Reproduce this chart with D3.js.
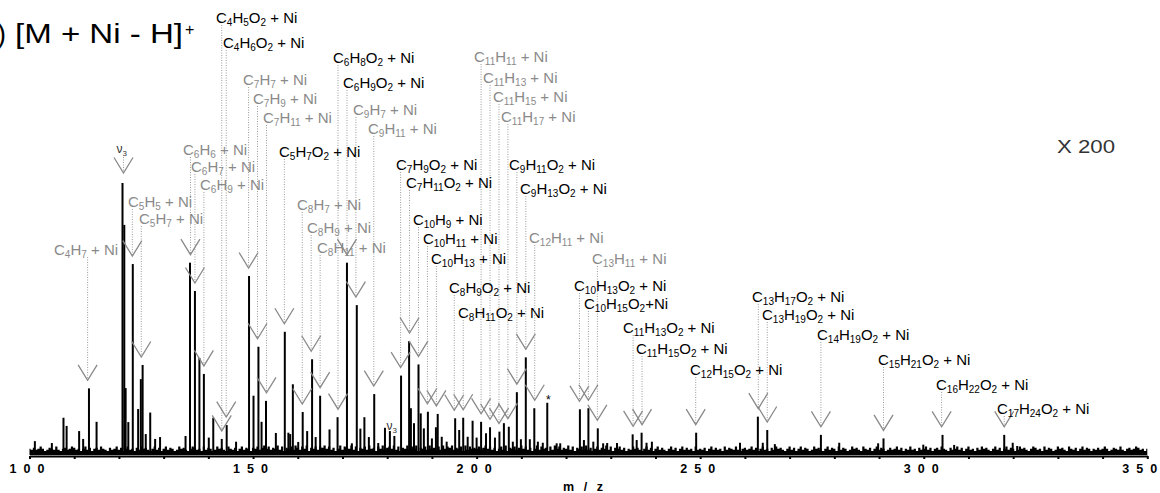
<!DOCTYPE html>
<html>
<head>
<meta charset="utf-8">
<script src="https://cdn.jsdelivr.net/npm/d3@7"></script>
<style>
body { margin: 0; background: #fff; }
svg { display: block; font-family: "Liberation Sans", Arial, sans-serif; }
</style>
</head>
<body>
<svg id="chart" width="1160" height="493"></svg>
<script>
// peaks: m/z and relative intensity (tallest = 100)
const peakMz = [101.2, 105.0, 107.6, 108.3, 111.1, 112.0, 113.3, 115.0,
  120.8, 121.2, 121.5, 122.1, 123.1, 124.3, 124.9, 125.3, 126.0, 127.0, 128.1, 129.2,
  134.9, 135.9, 137.0, 138.0, 139.0, 140.1, 141.1, 143.0, 144.1, 146.2,
  149.1, 150.1, 151.2, 151.9, 152.9, 155.1, 157.1, 157.9, 158.3, 158.9,
  160.1, 161.1, 162.1, 163.2, 164.0, 165.0, 167.1, 168.9, 171.0, 172.1,
  173.2, 174.0, 174.9, 175.9, 177.1, 178.0, 179.5, 180.6, 181.6,
  183.1, 184.9, 185.3, 186.0, 187.0, 187.5, 188.2, 189.1, 190.0, 190.9, 191.3, 192.2, 193.3,
  195.2, 196.1, 197.0, 198.0, 199.1, 200.0, 201.0, 202.1, 203.0, 204.1, 205.1, 206.1, 207.2,
  208.1, 209.0, 209.9, 211.0, 211.9, 212.9, 213.7, 214.8, 215.8, 217.9, 218.7,
  223.1, 224.0, 225.0, 226.1, 227.1, 228.3, 229.2, 231.4, 234.9, 235.8, 236.9, 238.0, 239.2,
  249.1, 258.9, 262.9, 264.0, 265.0, 266.7, 277.0, 281.1, 289.8, 291.0, 299.9,
  304.2, 306.8, 318.0, 319.9, 320.9];
const peakInt = [5.1, 4.4, 13.7, 10.7, 8.8, 5.9, 24.5, 12.2,
  100, 84.6, 24.6, 12.1, 70.2, 16.9, 27.9, 33.1, 7.7, 15.6, 5.9, 6.6,
  7.0, 70.7, 60.3, 35.7, 29.8, 6.4, 13.7, 5.9, 11.0, 4.9,
  65.8, 21.8, 39.8, 12.2, 19.9, 8.1, 45.3, 8.2, 7.7, 26.0,
  4.8, 15.8, 8.8, 35.2, 6.6, 21.8, 9.4, 13.9, 70.7, 4.3,
  55.1, 9.7, 13.9, 6.6, 22.4, 4.4, 10.0, 8.8, 7.0,
  29.2, 41.9, 17.2, 11.7, 33.3, 15.3, 9.8, 15.9, 6.1, 10.2, 15.1, 6.7, 4.9,
  13.5, 9.2, 13.7, 6.7, 12.6, 6.4, 12.2, 8.0, 10.2, 6.4, 8.6, 11.7, 10.4,
  4.9, 23.1, 5.8, 35.9, 5.8, 17.2, 4.9, 4.5, 19.2, 4.3, 4.3,
  16.8, 5.5, 17.2, 4.9, 9.8, 4.3, 4.4, 4.4, 7.6, 5.5, 8.2, 4.5, 4.9,
  8.2, 4.5, 14.1, 4.5, 9.2, 4.0, 7.4, 4.5, 4.3, 6.1, 3.8,
  7.4, 3.7, 7.4, 4.5, 3.3];

// baseline noise, one digit per 0.5 m/z from 100 to 350
const noiseRows = [
  "3242353124 3252134235 4231352413 4253214235 2413523142 5342135241 3524312534 2135423152 4312534215 3241352431",
  "4352463524 3625143526 4253614352 5463524136 2543625143 5263415362 4536251436 2536143526 3415263546 2435162534",
  "3524635241 3526143524 6352413625 3415263524 3625143526 2413524362 5143524132 5342135241 3524213524 1352423152",
  "3241352423 1524325213 4235241352 3142534213 5241352431 2534213524 3152431253 4215324135 2431242352 4132523142",
  "3524134253 2142352413 5231425342 1352413524 3125342135 4231524312 5342153241 3524313242 3531243252 1342354231 3"
];

// assigned ions
const annFormula = ["C4H5O2 + Ni", "C4H6O2 + Ni", "C6H8O2 + Ni", "C7H7 + Ni", "C6H9O2 + Ni",
  "C7H9 + Ni", "C9H7 + Ni", "C7H11 + Ni", "C9H11 + Ni", "C6H6 + Ni", "C6H7 + Ni", "C6H9 + Ni",
  "C5H7O2 + Ni", "C5H5 + Ni", "C5H7 + Ni", "C4H7 + Ni", "C8H7 + Ni", "C8H9 + Ni", "C8H11 + Ni",
  "C11H11 + Ni", "C11H13 + Ni", "C11H15 + Ni", "C11H17 + Ni", "C7H9O2 + Ni", "C7H11O2 + Ni",
  "C9H11O2 + Ni", "C9H13O2 + Ni", "C10H9 + Ni", "C10H11 + Ni", "C10H13 + Ni", "C8H9O2 + Ni",
  "C8H11O2 + Ni", "C12H11 + Ni", "C13H11 + Ni", "C10H13O2 + Ni", "C10H15O2+Ni", "C11H13O2 + Ni",
  "C11H15O2 + Ni", "C12H15O2 + Ni", "C13H17O2 + Ni", "C13H19O2 + Ni", "C14H19O2 + Ni",
  "C15H21O2 + Ni", "C16H22O2 + Ni", "C17H24O2 + Ni"];
const annMz = [143, 144, 169, 149, 171, 151, 173, 153, 177, 136, 137, 139, 157, 123, 125, 113,
  161, 163, 165, 201, 203, 205, 207, 183, 185, 209, 211, 187, 189, 191, 195, 197, 213, 227,
  223, 225, 235, 237, 249, 263, 265, 277, 291, 304, 318];
// k = oxygen-containing ions (black), g = hydrocarbon ions (grey)
const annTone = ("kkkgk" + "ggggggg" + "k" + "gggggggggg" + "kkkkkkkkk" + "gg" + "kkkkkkkkkkk").split("");

// where each label sits on the page
const labelXY = [[216, 18], [223, 43], [333, 58], [243, 80], [343, 83], [253, 99], [353, 110],
  [263, 118], [368, 129], [183, 150], [191, 167], [200, 185], [279, 152], [128, 202], [139, 219],
  [54, 250], [297, 205], [307, 228], [317, 248], [474, 57], [483, 78], [493, 97], [501, 117],
  [396, 165], [406, 183], [509, 165], [520, 189], [413, 220], [423, 239], [431, 259], [449, 288],
  [458, 313], [529, 238], [592, 259], [574, 286], [584, 304], [623, 328], [636, 349], [690, 370],
  [752, 297], [762, 315], [817, 335], [878, 360], [936, 385], [997, 409]];

const GREY = "#8a8a8a";
const svg = d3.select("#chart");
const x = d3.scaleLinear().domain([100, 350]).range([29.5, 1147.3]);
const y = d3.scaleLinear().domain([0, 100]).range([455, 183]);

// noise band
const noise = noiseRows.join("").replace(/\s/g, "").split("")
  .map((c, i) => ({mz: 100 + i * 0.5, h: 1.1 + (+c) * 0.4}));
svg.append("path")
  .datum(noise)
  .attr("fill", "#000")
  .attr("d", d3.area().x(d => x(d.mz)).y0(y(0)).y1(d => y(d.h)).curve(d3.curveStep));

// peaks
svg.append("g").selectAll("line")
  .data(peakMz.map((m, i) => ({mz: m, v: peakInt[i]})))
  .join("line")
  .attr("x1", d => x(d.mz)).attr("x2", d => x(d.mz))
  .attr("y1", y(0)).attr("y2", d => y(d.v))
  .attr("stroke", "#000").attr("stroke-width", 2);

// axis
const axis = d3.axisBottom(x).tickValues(d3.range(100, 351, 10))
  .tickSize(3).tickSizeOuter(0).tickPadding(5)
  .tickFormat(d => d % 50 === 0 ? d : "");
const gx = svg.append("g").attr("transform", "translate(0,456)").call(axis)
  .attr("font-family", "'Liberation Sans', Arial, sans-serif").attr("font-size", 12.5);
gx.select(".domain").attr("stroke", "#000").attr("stroke-width", 2);
gx.selectAll(".tick line").attr("stroke", "#000").attr("stroke-width", 2);
gx.selectAll(".tick text").attr("fill", "#000").attr("font-weight", "bold")
  .attr("textLength", d => d % 50 === 0 ? 35 : null).attr("lengthAdjust", "spacing")
  .attr("dx", d => d === 350 ? -8 : -3);

svg.append("text").attr("x", 584.5).attr("y", 491).attr("text-anchor", "middle")
  .attr("font-size", 12.5).attr("font-weight", "bold").attr("letter-spacing", "3px")
  .text("m / z");

// annotations
function formula(sel, str) {
  let sub = false;
  str.match(/\d+|\D+/g).forEach(p => {
    const t = sel.append("tspan").text(p);
    if (/^\d+$/.test(p)) {
      t.attr("font-size", 10).attr("dy", sub ? 0 : 3);
      sub = true;
    } else {
      t.attr("dy", sub ? -3 : 0);
      sub = false;
    }
  });
}

function tipY(mz) {
  let best = 0;
  peakMz.forEach((m, i) => { if (Math.abs(m - mz) <= 0.6) best = Math.max(best, peakInt[i]); });
  return y(best) - 8;
}

const ann = svg.append("g");
annFormula.forEach((f, i) => {
  const [lx, ly] = labelXY[i];
  const px = x(annMz[i]);
  const ty = tipY(annMz[i]);
  ann.append("line")
    .attr("x1", px).attr("x2", px).attr("y1", ly + 7).attr("y2", ty)
    .attr("stroke", "#9a9a9a").attr("stroke-width", 1).attr("stroke-dasharray", "1,1.5");
  ann.append("path")
    .attr("d", `M${px - 9.5},${ty - 15.5}L${px},${ty}L${px + 9.5},${ty - 15.5}`)
    .attr("fill", "none").attr("stroke", GREY).attr("stroke-width", 1.3);
  const t = ann.append("text").attr("x", lx).attr("y", ly + 5).attr("font-size", 15)
    .attr("fill", annTone[i] === "k" ? "#000" : GREY);
  formula(t, f);
});

// nu3 marks
const nuX = x(120.8), nuTip = y(100) - 10;
ann.append("line").attr("x1", nuX + 1).attr("x2", nuX + 1).attr("y1", 157).attr("y2", nuTip)
  .attr("stroke", "#9a9a9a").attr("stroke-width", 1).attr("stroke-dasharray", "1,1.5");
ann.append("path")
  .attr("d", `M${nuX + 1 - 9.5},${nuTip - 15.5}L${nuX + 1},${nuTip}L${nuX + 1 + 9.5},${nuTip - 15.5}`)
  .attr("fill", "none").attr("stroke", GREY).attr("stroke-width", 1.3);
[[116.5, 153], [386.5, 430]].forEach(([nx, ny]) => {
  const t = svg.append("text").attr("x", nx).attr("y", ny).attr("font-size", 12).attr("fill", "#333");
  t.append("tspan").text("ν");
  t.append("tspan").attr("font-size", 8).attr("dy", 2.5).text("3");
});

// asterisk on m/z 216
svg.append("text").attr("x", x(215.8) + 1).attr("y", 404).attr("text-anchor", "middle")
  .attr("font-size", 12).text("*");

// title and scale factor
svg.append("text").attr("x", 15).attr("y", 43).attr("font-size", 27)
  .attr("textLength", 168).attr("lengthAdjust", "spacingAndGlyphs").text("[M + Ni - H]");
svg.append("text").attr("x", 6).attr("y", 43).attr("text-anchor", "end").attr("font-size", 27).text("b)");
svg.append("text").attr("x", 185).attr("y", 35).attr("font-size", 16).text("+");
svg.append("text").attr("x", 1057).attr("y", 153).attr("font-size", 18).attr("fill", "#333")
  .attr("textLength", 58).attr("lengthAdjust", "spacingAndGlyphs").text("X 200");
</script>
</body>
</html>
